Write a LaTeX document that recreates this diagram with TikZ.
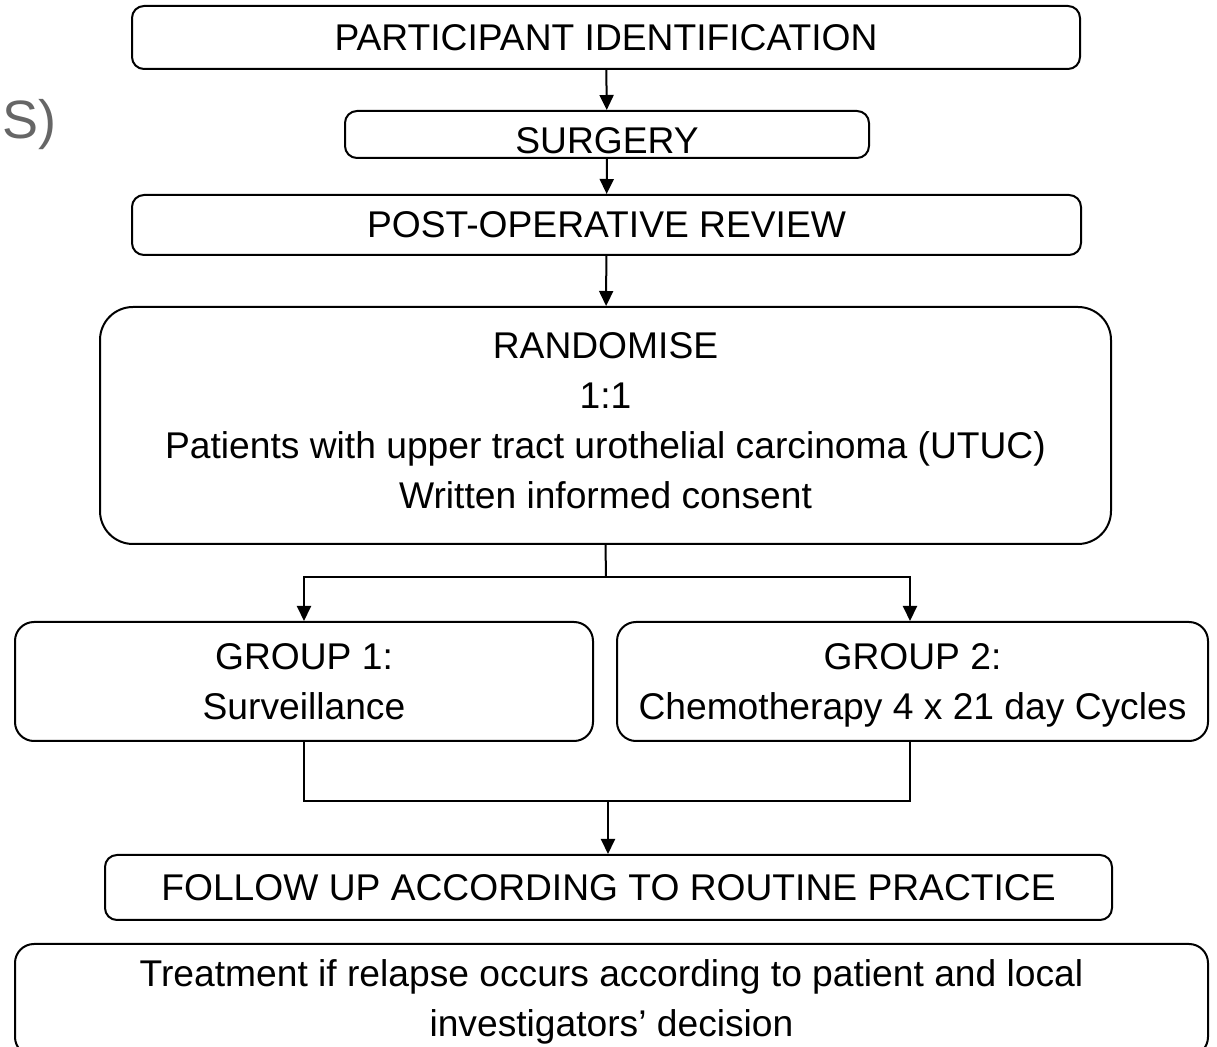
\documentclass[tikz,border=0pt]{standalone}
\usepackage{fontspec}
\setmainfont{Liberation Sans}
\usepackage{xcolor}
\usepackage{tikz}
\usetikzlibrary{positioning, arrows.meta, calc}
\newcommand{\flowfont}{\fontsize{18.6pt}{25pt}\selectfont}

\begin{document}
\begin{tikzpicture}[
    x=0.5pt, y=-0.5pt,
    stage/.style={draw=black, rounded corners=6pt, line width=1pt,
                  inner sep=0pt, align=center, font=\flowfont},
    arm/.style={stage, rounded corners=9.5pt, text depth=0pt},
    arr/.style={-{Triangle[length=7.5pt, width=7pt]}, line width=1pt},
    link/.style={line width=1pt},
]
\useasboundingbox (0,0) rectangle (1217,1047);

% Clipped side label
\node[anchor=base east, inner sep=0pt, text=black!60,
      font=\fontsize{27pt}{30pt}\selectfont] (sidelabel) at (57,139) {FS)};

% Pre-randomisation steps
\node[stage, minimum width=474pt, minimum height=31.5pt] (ident) at (606,37.5)
     {PARTICIPANT IDENTIFICATION};
\node[stage, minimum width=262pt, minimum height=23.5pt,
      text height=18.8pt, text depth=0pt] (surgery) at (607,134.5)
     {SURGERY};
\node[stage, minimum width=474.5pt, minimum height=30pt] (review) at (606.5,225)
     {POST-OPERATIVE REVIEW};

% Randomisation
\node[stage, rounded corners=16.5pt, minimum width=505.5pt, minimum height=118.5pt,
      text depth=4.5pt] (randomise) at (605.5,425.5)
     {RANDOMISE\\1:1\\Patients with upper tract urothelial carcinoma (UTUC)\\Written informed consent};

% Two arms
\node[arm, minimum width=289pt, minimum height=59.5pt] (group1) at (304,681.5)
     {GROUP 1:\\Surveillance};
\node[arm, minimum width=295.5pt, minimum height=59.5pt] (group2) at (912.5,681.5)
     {GROUP 2:\\Chemotherapy 4 x 21 day Cycles};

% Follow up
\node[stage, minimum width=503.5pt, minimum height=32.5pt] (follow) at (608.5,887.5)
     {FOLLOW UP ACCORDING TO ROUTINE PRACTICE};
\node[arm, minimum width=596.5pt, minimum height=56pt, text depth=1.5pt]
     (relapse) at (611.5,1000)
     {Treatment if relapse occurs according to patient and local\\investigators' decision};

% Arrows between steps
\foreach \a/\b in {ident/surgery, surgery/review, review/randomise} {
    \draw[arr] (\a) -- (\b);
}

% Split into arms
\coordinate (split) at (606,577);
\draw[link] (randomise.south) -- (split);
\draw[arr] (split) -| (group1.north);
\draw[arr] (split) -| ([xshift=-1.25pt]group2.north);

% Merge into follow up
\coordinate (merge) at (608,801);
\draw[link] (group1.south) |- (merge) -| ([xshift=-1.25pt]group2.south);
\draw[arr] (merge) -- (merge |- follow.north);

\end{tikzpicture}
\end{document}
